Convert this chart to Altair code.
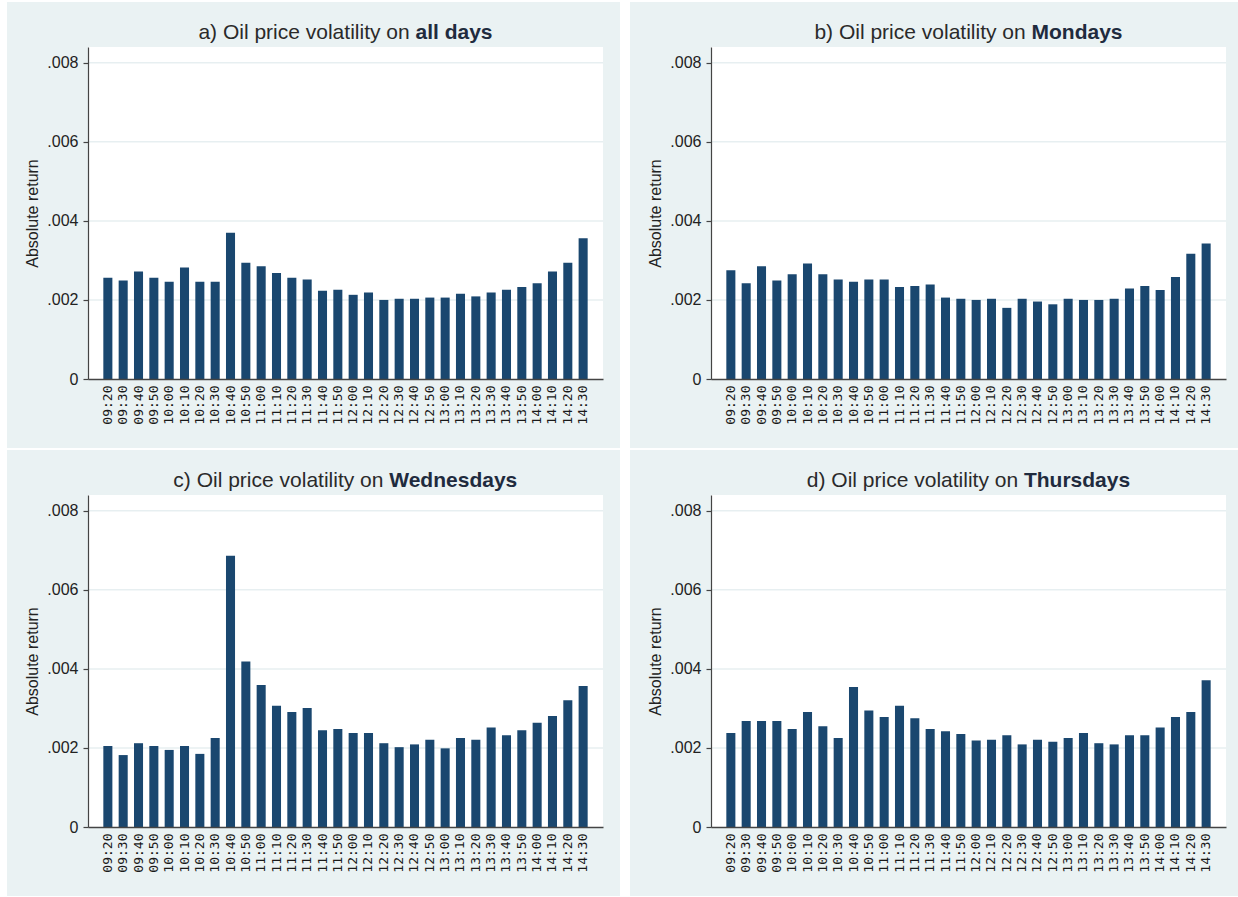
import altair as alt
import pandas as pd

times = ["09:20", "09:30", "09:40", "09:50", "10:00", "10:10", "10:20", "10:30",
         "10:40", "10:50", "11:00", "11:10", "11:20", "11:30", "11:40", "11:50",
         "12:00", "12:10", "12:20", "12:30", "12:40", "12:50", "13:00", "13:10",
         "13:20", "13:30", "13:40", "13:50", "14:00", "14:10", "14:20", "14:30"]

all_days = [0.00256, 0.00249, 0.00272, 0.00256, 0.00246, 0.00282, 0.00246, 0.00246,
            0.00370, 0.00294, 0.00285, 0.00268, 0.00256, 0.00252, 0.00223, 0.00226,
            0.00213, 0.00219, 0.00200, 0.00203, 0.00203, 0.00206, 0.00206, 0.00216,
            0.00209, 0.00219, 0.00226, 0.00233, 0.00242, 0.00272, 0.00294, 0.00356]

mondays = [0.00275, 0.00242, 0.00285, 0.00249, 0.00265, 0.00292, 0.00265, 0.00252,
           0.00246, 0.00252, 0.00252, 0.00233, 0.00235, 0.00239, 0.00206, 0.00203,
           0.00200, 0.00203, 0.00180, 0.00203, 0.00196, 0.00189, 0.00203, 0.00200,
           0.00200, 0.00203, 0.00229, 0.00235, 0.00225, 0.00258, 0.00317, 0.00343]

wednesdays = [0.00205, 0.00182, 0.00212, 0.00205, 0.00195, 0.00205, 0.00185, 0.00225,
              0.00686, 0.00419, 0.00359, 0.00307, 0.00291, 0.00301, 0.00245, 0.00248,
              0.00238, 0.00238, 0.00212, 0.00202, 0.00209, 0.00221, 0.00199, 0.00225,
              0.00221, 0.00252, 0.00232, 0.00245, 0.00264, 0.00281, 0.00321, 0.00357]

thursdays = [0.00238, 0.00268, 0.00268, 0.00268, 0.00248, 0.00291, 0.00255, 0.00225,
             0.00354, 0.00295, 0.00278, 0.00307, 0.00275, 0.00248, 0.00242, 0.00235,
             0.00219, 0.00221, 0.00232, 0.00209, 0.00221, 0.00216, 0.00225, 0.00238,
             0.00212, 0.00209, 0.00232, 0.00232, 0.00252, 0.00278, 0.00291, 0.00371]

grid_values = [0.002, 0.004, 0.006, 0.008]
y_ticks = [0, 0.002, 0.004, 0.006, 0.008]

title_prefixes = ["a) Oil price volatility on", "b) Oil price volatility on",
                  "c) Oil price volatility on", "d) Oil price volatility on"]
title_bold = ["all days", "Mondays", "Wednesdays", "Thursdays"]

W, H = 515, 332
BG = "#eaf2f3"
BAR = "#1a476f"
FONT = "Liberation Sans"
TITLE_SIZE = 21

# Arial / Liberation Sans advance widths (per 1000 em) for title layout
REG = {"a": 556, "b": 556, "c": 500, "d": 556, ")": 333, " ": 278, "O": 778, "i": 222,
       "l": 222, "p": 556, "r": 333, "e": 556, "v": 500, "o": 556, "t": 278, "y": 500,
       "n": 556}
BOLD = {"a": 556, "l": 278, " ": 278, "d": 611, "y": 556, "s": 556, "M": 833, "o": 611,
        "n": 611, "W": 944, "e": 556, "T": 611, "h": 611, "u": 611, "r": 389}


def tw(s, table):
    return sum(table.get(ch, 556) for ch in s) * TITLE_SIZE / 1000.0


yscale = alt.Scale(domain=[0, 0.0084], nice=False, zero=True)
label_expr = "datum.value == 0 ? '0' : replace(format(datum.value, '.3f'), '0.', '.')"


def panel(values, prefix, bold, right_ext):
    df = pd.DataFrame({"time": times, "value": values})
    one = pd.DataFrame({"k": [0]})

    bg = alt.Chart(one).mark_rect(color=BG, strokeWidth=0).encode(
        x=alt.value(-81), x2=alt.value(W + right_ext),
        y=alt.value(-45), y2=alt.value(H + 69))
    plotbg = alt.Chart(one).mark_rect(color="white", strokeWidth=0).encode(
        x=alt.value(0), x2=alt.value(W), y=alt.value(0), y2=alt.value(H))
    grid = alt.Chart(pd.DataFrame({"value": grid_values})).mark_rule(
        color="#e7eff1", strokeWidth=1.5).encode(
        y=alt.Y("value:Q", scale=yscale))
    bars = alt.Chart(df).mark_bar(color=BAR).encode(
        x=alt.X("time:N", sort=times, title=None,
                scale=alt.Scale(paddingInner=0.41, paddingOuter=1.0),
                axis=alt.Axis(labelAngle=-90, ticks=False, labelFont="DejaVu Sans Mono",
                              labelFontSize=13, labelPadding=6, labelColor="#1a1a1a",
                              labelOverlap=False, domainColor="#444444", domainWidth=1.5,
                              zindex=1)),
        y=alt.Y("value:Q", scale=yscale,
                axis=alt.Axis(values=y_ticks, labelExpr=label_expr, grid=False,
                              tickSize=5, tickColor="#444444", tickWidth=1.2,
                              domainColor="#444444", domainWidth=1.2,
                              labelFont=FONT, labelFontSize=16, labelPadding=5,
                              labelColor="#222222",
                              title="Absolute return", titleFont=FONT, titleFontSize=16,
                              titleFontWeight="normal", titleColor="#222222",
                              titleAngle=-90, titleAlign="center", titleBaseline="middle",
                              titleX=-56, titleY=H / 2, zindex=1)))

    reg_w = tw(prefix, REG)
    sp = tw(" ", REG)
    bold_w = tw(bold, BOLD)
    total = reg_w + sp + bold_w
    start = W / 2 - total / 2
    t1 = alt.Chart(one).mark_text(align="right", baseline="alphabetic", font=FONT,
                                  fontSize=TITLE_SIZE, color="#2a2a2a").encode(
        x=alt.value(start + reg_w), y=alt.value(-8), text=alt.value(prefix))
    t2 = alt.Chart(one).mark_text(align="left", baseline="alphabetic", font=FONT,
                                  fontSize=TITLE_SIZE, fontWeight="bold",
                                  color="#1f2b3e").encode(
        x=alt.value(start + reg_w + sp), y=alt.value(-8), text=alt.value(bold))

    return alt.layer(bg, plotbg, grid, bars, t1, t2).properties(width=W, height=H)


pa = panel(all_days, title_prefixes[0], title_bold[0], 17)
pb = panel(mondays, title_prefixes[1], title_bold[1], 12)
pc = panel(wednesdays, title_prefixes[2], title_bold[2], 17)
pd_ = panel(thursdays, title_prefixes[3], title_bold[3], 12)

row1 = alt.hconcat(pa, pb, spacing=10)
row2 = alt.hconcat(pc, pd_, spacing=10)
chart = alt.vconcat(row1, row2, spacing=2).properties(
    padding={"left": 7, "top": 2, "right": 0, "bottom": 0},
    background="white",
).configure_view(strokeWidth=0)

chart.save("out.html", embed_options={"renderer": "svg", "actions": False})
